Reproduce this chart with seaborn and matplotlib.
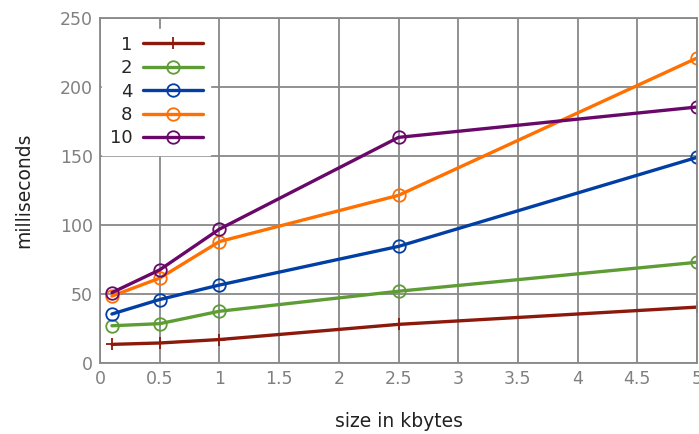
import matplotlib
matplotlib.use("Agg")
from matplotlib import pyplot as plt
import seaborn as sns
import pandas as pd

sizes = [0.1, 0.5, 1, 2.5, 5]
series_names = ["1", "2", "4", "8", "10"]
ms_1 = [13.5, 14.5, 17, 28, 40.5]
ms_2 = [27, 28.5, 37.5, 52, 73]
ms_4 = [35.5, 46, 56.5, 84.5, 149]
ms_8 = [48.5, 61.5, 88, 121.5, 221]
ms_10 = [51, 67.5, 97, 163.5, 185.5]

colors = ["#8c1a0c", "#5e9c36", "#023fa5", "#ff7000", "#6a086a"]
markers = ["+", "o", "o", "o", "o"]

sns.set_style("white")
plt.rcParams["font.family"] = ["DejaVu Sans"]

fig = plt.figure(figsize=(6.99, 4.34), dpi=100)
ax = fig.add_axes([100 / 699, 1 - 363 / 434, 597 / 699, 345 / 434])

for name, vals, c, m in zip(series_names, [ms_1, ms_2, ms_4, ms_8, ms_10], colors, markers):
    df = pd.DataFrame({"size": sizes, "ms": vals})
    sns.lineplot(data=df, x="size", y="ms", ax=ax, color=c, marker=m,
                 markersize=9, mfc="none", mec=c, mew=1.3, lw=2.4, label=name)

ax.set_xlim(0, 5)
ax.set_ylim(0, 250)
ax.set_xticks([0, 0.5, 1, 1.5, 2, 2.5, 3, 3.5, 4, 4.5, 5])
ax.set_xticklabels(["0", "0.5", "1", "1.5", "2", "2.5", "3", "3.5", "4", "4.5", "5"])
ax.set_yticks([0, 50, 100, 150, 200, 250])
ax.grid(True, color="#888888", lw=1.3)
ax.set_axisbelow(True)
for s in ax.spines.values():
    s.set_color("#888888")
    s.set_linewidth(1.3)
ax.tick_params(colors="#808080", labelsize=12.5, length=0, pad=5)
ax.set_xlabel("size in kbytes", fontsize=13.5, color="#222222", labelpad=17)
ax.set_ylabel("milliseconds", fontsize=13.5, color="#222222", labelpad=19)

leg = ax.legend(loc="upper left", markerfirst=False, frameon=True, handlelength=3.3,
                fontsize=13, labelspacing=0.3, borderaxespad=0.3, edgecolor="white",
                framealpha=1, fancybox=False, borderpad=0.4, handletextpad=0.6,
                bbox_to_anchor=(-0.005, 0.985))
for t in leg.get_texts():
    t.set_ha("right")

fig.savefig("out.png", dpi=100)
